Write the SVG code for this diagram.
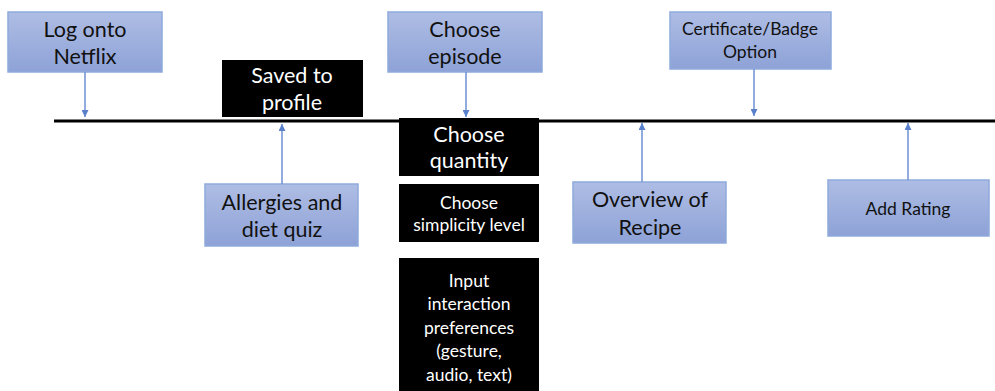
<svg xmlns="http://www.w3.org/2000/svg" width="995" height="391" viewBox="0 0 995 391">
<defs>
<linearGradient id="bg" x1="0" y1="0" x2="0" y2="1">
<stop offset="0" stop-color="#aebde4"/>
<stop offset="1" stop-color="#8ea2d7"/>
</linearGradient>
<marker id="ah" viewBox="0 0 10 10" refX="10" refY="5" markerWidth="7" markerHeight="7" markerUnits="userSpaceOnUse" orient="auto">
<path d="M0,0 L10,5 L0,10 z" fill="#5a7fcb"/>
</marker>
<style>
.blue{fill:url(#bg);stroke:#8faadc;stroke-width:1.5}
.blk{fill:#000}
text{font-family:Lato,"Open Sans","Liberation Sans",sans-serif;text-anchor:middle}
.dk{fill:#111}
.wt{fill:#fff}
.L{font-size:21.5px}
.S{font-size:17.5px}
.conn line{stroke:#6f90d4;stroke-width:1.5;marker-end:url(#ah)}
</style>
</defs>
<rect width="995" height="391" fill="#fff"/>
<line x1="54" y1="121" x2="995" y2="121" stroke="#000" stroke-width="3"/>
<g id="n1"><rect class="blue" x="8" y="12" width="154" height="60"/>
<text class="dk L" x="85" y="37">Log onto</text><text class="dk L" x="85" y="64">Netflix</text></g>
<g id="n2"><rect class="blk" x="222" y="60" width="141" height="57"/>
<text class="wt L" x="292" y="83">Saved to</text><text class="wt L" x="292" y="110">profile</text></g>
<g id="n3"><rect class="blue" x="205" y="184" width="153" height="62"/>
<text class="dk L" x="282" y="210">Allergies and</text><text class="dk L" x="282" y="237">diet quiz</text></g>
<g id="n4"><rect class="blue" x="388" y="12" width="154" height="60"/>
<text class="dk L" x="465" y="37">Choose</text><text class="dk L" x="465" y="64">episode</text></g>
<g id="n5"><rect class="blk" x="399" y="118" width="140" height="58"/>
<text class="wt L" x="469" y="142">Choose</text><text class="wt L" x="469" y="168">quantity</text></g>
<g id="n6"><rect class="blk" x="399" y="184" width="140" height="58"/>
<text class="wt S" x="469" y="209">Choose</text><text class="wt S" x="469" y="231">simplicity level</text></g>
<g id="n7"><rect class="blk" x="399" y="258" width="140" height="133"/>
<text class="wt S" x="469" y="287">Input</text><text class="wt S" x="469" y="310">interaction</text><text class="wt S" x="469" y="334">preferences</text><text class="wt S" x="469" y="357">(gesture,</text><text class="wt S" x="469" y="381">audio, text)</text></g>
<g id="n8"><rect class="blue" x="670" y="12" width="161" height="57"/>
<text class="dk S" x="750" y="35">Certificate/Badge</text><text class="dk S" x="750" y="58">Option</text></g>
<g id="n9"><rect class="blue" x="573" y="182" width="153" height="61"/>
<text class="dk L" x="650" y="207">Overview of</text><text class="dk L" x="650" y="235">Recipe</text></g>
<g id="n10"><rect class="blue" x="828" y="180" width="161" height="56"/>
<text class="dk S" x="908" y="215">Add Rating</text></g>
<g id="connectors" class="conn">
<line x1="85" y1="72" x2="85" y2="117"/>
<line x1="282" y1="184" x2="282" y2="124"/>
<line x1="466" y1="72" x2="466" y2="117"/>
<line x1="754" y1="69" x2="754" y2="116"/>
<line x1="642" y1="182" x2="642" y2="123"/>
<line x1="908" y1="180" x2="908" y2="123"/>
</g>
</svg>
